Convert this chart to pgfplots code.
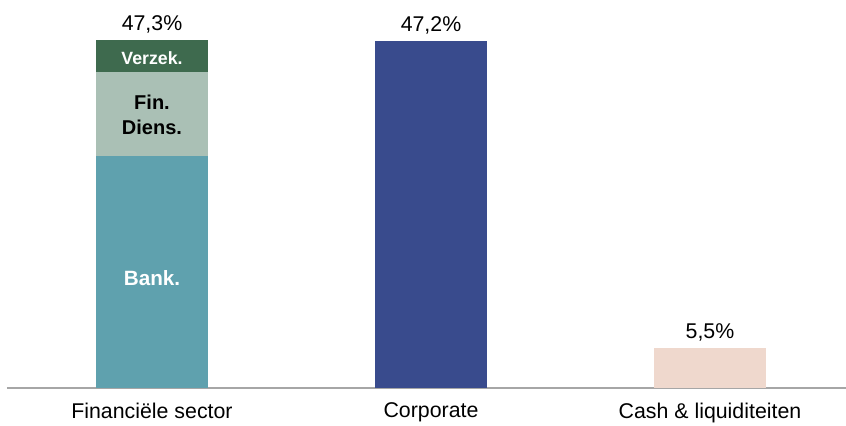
\documentclass[border=0pt]{standalone}
\usepackage{fontspec}
\setmainfont{Liberation Sans}
\usepackage{pgfplots}
\pgfplotsset{compat=1.18}
\definecolor{cBank}{HTML}{5FA1AE}
\definecolor{cFin}{HTML}{AAC0B5}
\definecolor{cVerz}{HTML}{3E6A4E}
\definecolor{cCorp}{HTML}{394B8D}
\definecolor{cCash}{HTML}{EFD8CD}
\definecolor{cAxis}{HTML}{A6A6A6}
\begin{document}
\begin{tikzpicture}
\useasboundingbox (0,0) rectangle (634.5pt,318.75pt);
\begin{axis}[
  at={(5.25pt,27.75pt)}, anchor=south west,
  scale only axis, width=629.25pt, height=291pt,
  ybar stacked, bar width=0.401,
  xmin=-0.5197, xmax=2.4875, ymin=0, ymax=52.74,
  axis x line=bottom, axis y line=none,
  axis line style={cAxis, line width=1.5pt, -},
  xtick={0,1,2},
  xticklabels={Financiële sector, Corporate, Cash \& liquiditeiten},
  major tick length=0pt,
  xticklabel style={font=\fontsize{16}{19}\selectfont, inner sep=0pt, anchor=north, yshift=-11pt},
  clip=false,
]
\addplot[fill=cBank, draw=none] coordinates {(0,31.5) (1,0) (2,0)};
\addplot[fill=cFin, draw=none] coordinates {(0,11.4) (1,0) (2,0)};
\addplot[fill=cVerz, draw=none] coordinates {(0,4.4) (1,0) (2,0)};
\addplot[fill=cCorp, draw=none] coordinates {(0,0) (1,47.2) (2,0)};
\addplot[fill=cCash, draw=none] coordinates {(0,0) (1,0) (2,5.5)};
\coordinate (lBank) at (axis cs:0,15.0);
\coordinate (lFin) at (axis cs:0,37.1);
\coordinate (lVerz) at (axis cs:0,44.85);
\coordinate (tA) at (axis cs:0,47.3);
\coordinate (tB) at (axis cs:1,47.2);
\coordinate (tC) at (axis cs:2,5.5);
\end{axis}
\node[text=white, font=\bfseries\fontsize{15.5}{18}\selectfont] at (lBank) {Bank.};
\node[text=black, font=\bfseries\fontsize{15}{18.75}\selectfont, align=center] at (lFin) {Fin.\\Diens.};
\node[text=white, font=\bfseries\fontsize{13.3}{16}\selectfont] at (lVerz) {Verzek.};
\node[anchor=south, yshift=1.5pt, font=\fontsize{16}{19}\selectfont] at (tA) {47,3\%};
\node[anchor=south, yshift=1.5pt, font=\fontsize{16}{19}\selectfont] at (tB) {47,2\%};
\node[anchor=south, yshift=1.5pt, font=\fontsize{16}{19}\selectfont] at (tC) {5,5\%};
\end{tikzpicture}
\end{document}
